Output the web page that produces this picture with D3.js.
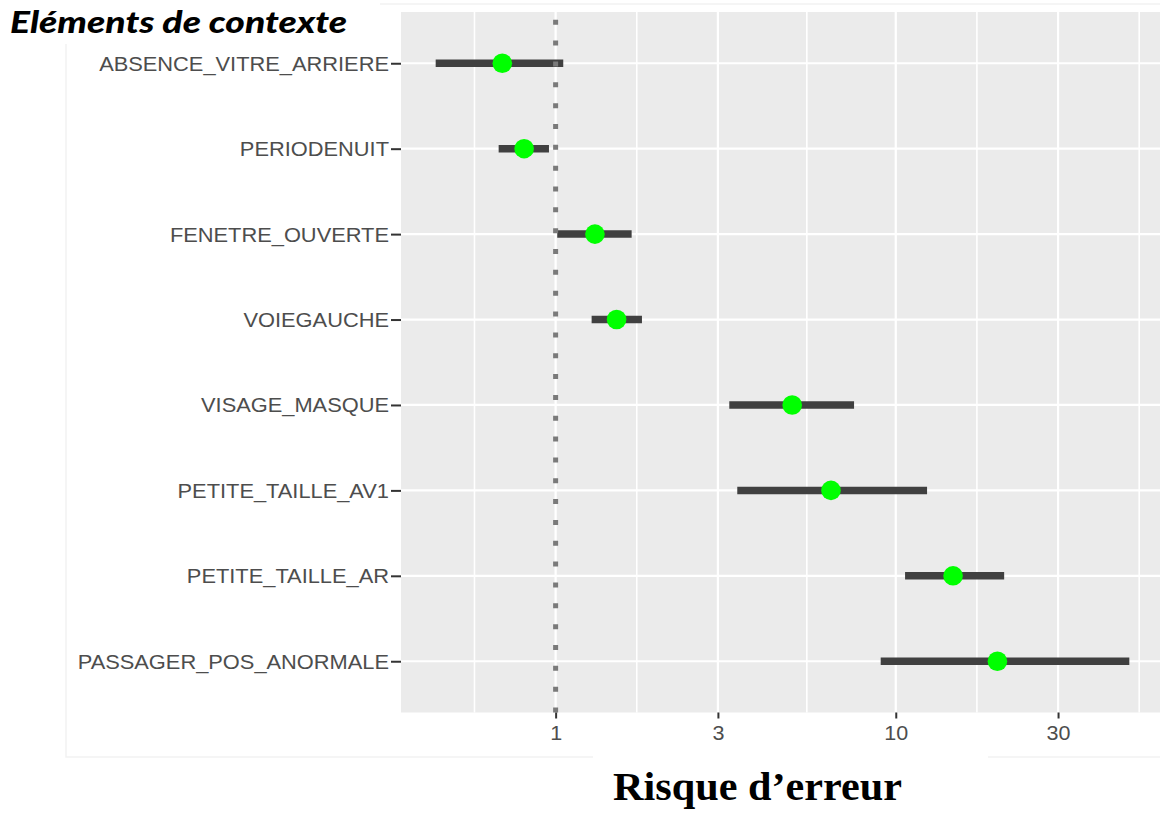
<!DOCTYPE html>
<html><head><meta charset="utf-8">
<script src="https://cdn.jsdelivr.net/npm/d3@7"></script>
<style>body{margin:0;background:#fff;overflow:hidden}</style></head>
<body><svg id="c" width="1160" height="815"></svg>
<script>
// ---- data ----
const categories = ["ABSENCE_VITRE_ARRIERE","PERIODENUIT","FENETRE_OUVERTE","VOIEGAUCHE","VISAGE_MASQUE","PETITE_TAILLE_AV1","PETITE_TAILLE_AR","PASSAGER_POS_ANORMALE"];
const estimate = [0.697, 0.808, 1.305, 1.511, 4.96, 6.45, 14.74, 19.9];
const lower    = [0.444, 0.680, 1.011, 1.276, 3.24, 3.42, 10.65, 9.03];
const upper    = [1.053, 0.956, 1.673, 1.794, 7.54, 12.36, 20.83, 48.6];
const xTicks = [1, 3, 10, 30];
const xTickLabels = ["1", "3", "10", "30"];
const refValue = 1;
const titleText = "Eléments de contexte";
const xTitle = "Risque d\u2019erreur";

const rows = categories.map((c, i) => ({cat: c, est: estimate[i], lo: lower[i], hi: upper[i]}));

const svg = d3.select("#c");
const P = {left: 401, right: 1164, top: 12, bottom: 712.5};

// faint outer frame of the original plot area
svg.append("rect").attr("x", 66).attr("y", 4).attr("width", 1110).attr("height", 753)
  .attr("fill", "#fff").attr("stroke", "#f2f2f2").attr("stroke-width", 1.5);

// log scale with 5% expansion (in log space) like ggplot
const lmin = Math.log10(d3.min(lower)), lmax = Math.log10(d3.max(upper));
const ex = (lmax - lmin) * 0.05;
const x = d3.scaleLog().domain([Math.pow(10, lmin - ex), Math.pow(10, lmax + ex)]).range([P.left, P.right]);
const y = d3.scalePoint().domain(categories).range([P.top, P.bottom]).padding(0.6);

// panel
svg.append("rect").attr("x", P.left).attr("y", P.top)
  .attr("width", P.right - P.left).attr("height", P.bottom - P.top).attr("fill", "#EBEBEB");

// minor grid: geometric midpoints between (extended) major breaks
const lt = xTicks.map(Math.log10);
const bd = lt[1] - lt[0];
const ext = [lt[0] - bd, ...lt, lt[lt.length - 1] + bd];
const minor = d3.range(ext.length - 1).map(i => Math.pow(10, (ext[i] + ext[i + 1]) / 2));
const g = svg.append("g");
g.selectAll(".mn").data(minor).join("line")
  .attr("x1", d => x(d)).attr("x2", d => x(d)).attr("y1", P.top).attr("y2", P.bottom)
  .attr("stroke", "#fff").attr("stroke-width", 1.6);
g.selectAll(".mj").data(xTicks).join("line")
  .attr("x1", d => x(d)).attr("x2", d => x(d)).attr("y1", P.top).attr("y2", P.bottom)
  .attr("stroke", "#fff").attr("stroke-width", 2.2);
g.selectAll(".hy").data(categories).join("line")
  .attr("x1", P.left).attr("x2", P.right).attr("y1", d => y(d)).attr("y2", d => y(d))
  .attr("stroke", "#fff").attr("stroke-width", 2.2);

// error bars
svg.append("g").selectAll("line").data(rows).join("line")
  .attr("x1", d => x(d.lo)).attr("x2", d => x(d.hi))
  .attr("y1", d => y(d.cat)).attr("y2", d => y(d.cat))
  .attr("stroke", "#404040").attr("stroke-width", 7.5).attr("stroke-linecap", "butt");

// reference dotted line
svg.append("line").attr("x1", x(refValue)).attr("x2", x(refValue))
  .attr("y1", P.bottom).attr("y2", P.top)
  .attr("stroke", "#7a7a7a").attr("stroke-width", 5).attr("stroke-dasharray", "5 15.84");

// points
svg.append("g").selectAll("circle").data(rows).join("circle")
  .attr("cx", d => x(d.est)).attr("cy", d => y(d.cat)).attr("r", 9.8)
  .attr("fill", "#00FF00");

// y axis
const ya = svg.append("g").attr("transform", `translate(${P.left},0)`)
  .call(d3.axisLeft(y).tickSize(10).tickSizeOuter(0));
ya.select(".domain").remove();
ya.selectAll(".tick line").attr("stroke", "#333").attr("stroke-width", 2);
ya.selectAll(".tick text")
  .attr("x", 0).attr("dy", "0.36em")
  .attr("transform", "translate(-12,0) scale(1.12,1)")
  .attr("fill", "#4D4D4D")
  .style("font-family", "'Liberation Sans', Arial, sans-serif").style("font-size", "19.5px");

// x axis
const xa = svg.append("g").attr("transform", `translate(0,${P.bottom})`)
  .call(d3.axisBottom(x).tickValues(xTicks).tickFormat((d, i) => xTickLabels[i]).tickSize(6).tickSizeOuter(0));
xa.select(".domain").remove();
xa.selectAll(".tick line").attr("stroke", "#333").attr("stroke-width", 2);
xa.selectAll(".tick text")
  .attr("y", 0).attr("dy", 0)
  .attr("transform", "translate(0,27) scale(1.05,1)")
  .attr("fill", "#4D4D4D")
  .style("font-family", "'Liberation Sans', Arial, sans-serif").style("font-size", "20.5px");

// title (top-left)
svg.append("rect").attr("x", 0).attr("y", 0).attr("width", 380).attr("height", 44).attr("fill", "#fff");
svg.append("text").attr("x", 10).attr("y", 33).text(titleText)
  .attr("textLength", 337).attr("lengthAdjust", "spacingAndGlyphs")
  .style("font-family", "Lato, 'Open Sans', sans-serif").style("font-weight", "900")
  .style("font-style", "italic").style("font-size", "30px").attr("fill", "#000");

// x title
svg.append("rect").attr("x", 593).attr("y", 752).attr("width", 395).attr("height", 63).attr("fill", "#fff");
svg.append("text").attr("x", 613).attr("y", 800).text(xTitle)
  .attr("textLength", 289).attr("lengthAdjust", "spacingAndGlyphs")
  .style("font-family", "'Liberation Serif', 'Times New Roman', serif").style("font-weight", "bold")
  .style("font-size", "39px").attr("fill", "#000");
</script>
</body></html>
